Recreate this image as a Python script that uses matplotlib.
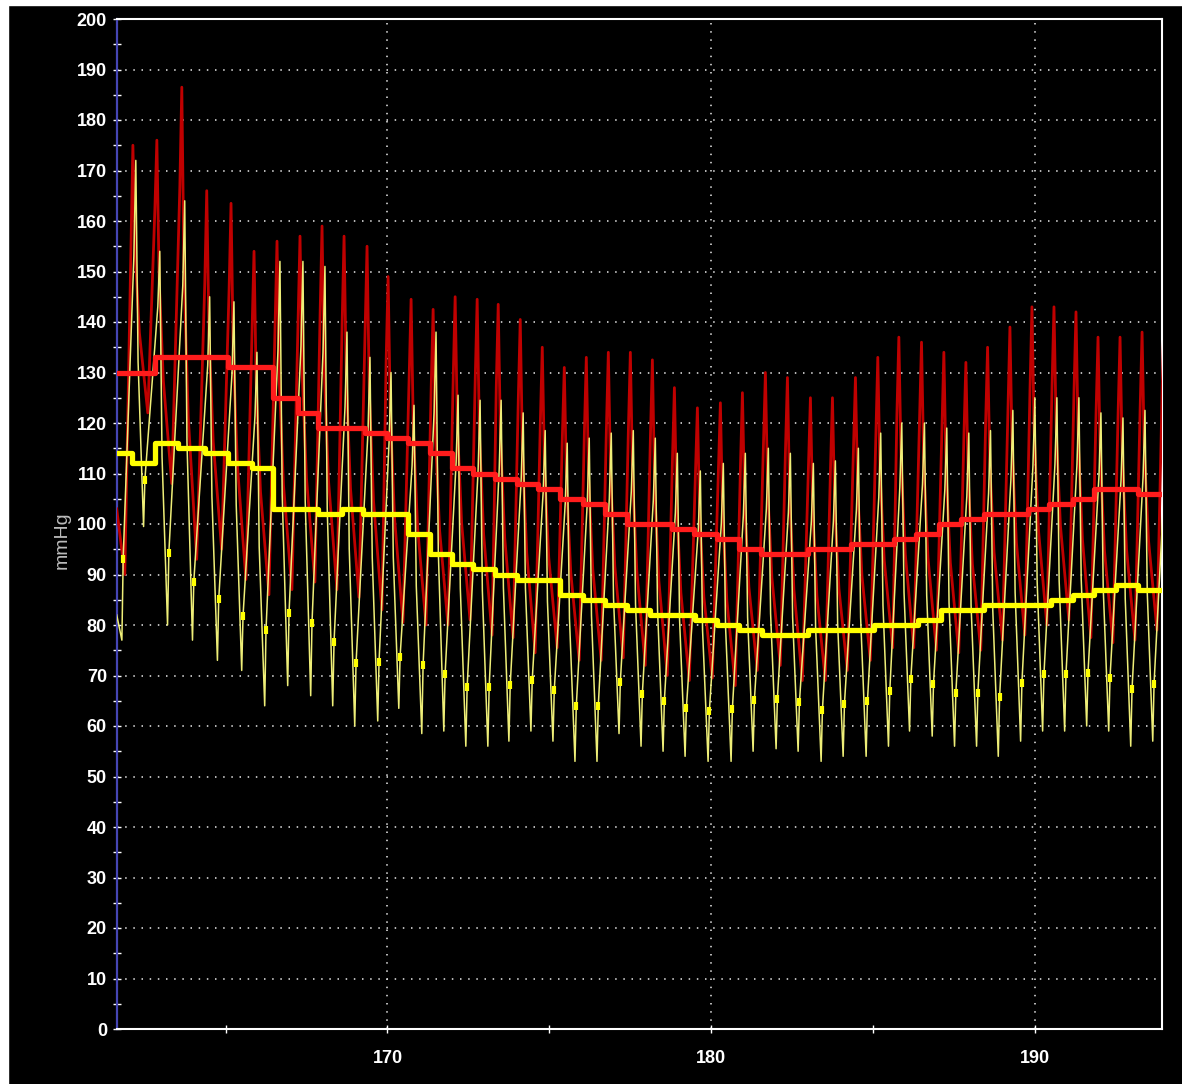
import matplotlib
matplotlib.use("Agg")
import matplotlib.pyplot as plt
from matplotlib.patches import Rectangle
from matplotlib.ticker import MultipleLocator

# beat times (s) at the arterial systolic peak
beat_t = [162.14, 162.88, 163.65, 164.42, 165.17, 165.88, 166.59, 167.30, 167.98, 168.66,
          169.37, 170.02, 170.73, 171.41, 172.09, 172.77, 173.42, 174.10, 174.78, 175.46,
          176.14, 176.82, 177.50, 178.18, 178.86, 179.57, 180.28, 180.96, 181.67, 182.35,
          183.06, 183.74, 184.45, 185.14, 185.79, 186.49, 187.18, 187.86, 188.53, 189.22,
          189.90, 190.58, 191.26, 191.94, 192.62, 193.30, 193.98]

# red trace: systolic peak and following diastolic trough per beat (mmHg)
red_sys = [175, 176, 186.5, 166, 163.5, 154, 156, 157, 159, 157,
           155, 149, 144.5, 142.5, 145, 144.5, 143.5, 140.5, 135, 131,
           133, 134, 134, 132.5, 127, 123, 124, 126, 130, 129,
           125, 125, 129, 133, 137, 136, 134, 132, 135, 139,
           143, 143, 142, 137, 137, 138, 142]
red_dia = [122, 108, 93, 95, 89, 86, 87, 88.5, 87, 85.5,
           83, 80.5, 80, 80, 81, 78, 77.5, 74.5, 75.5, 73,
           73, 73.5, 72, 70, 69, 69.5, 68, 71, 72, 69,
           69, 71, 73, 75.5, 75.5, 75, 74.5, 75, 77, 78,
           80, 81, 77.5, 76.5, 77, 79, 80]
red_first = [103, 90]

# yellow trace: systolic peak and following trough per beat (mmHg)
yel_sys = [172, 154, 164, 145, 144, 134, 152, 152, 151, 138,
           133, 130, 123.5, 138, 125.5, 124.5, 124.5, 122, 118.5, 116,
           117, 118, 118.5, 117, 114, 110.5, 112, 114, 115, 114,
           112, 112.5, 115, 118, 120, 120, 119, 118, 118.5, 122.5,
           125, 125, 125, 122, 121, 122.5, 124]
yel_dia = [99.5, 80, 77, 73, 71, 64, 68, 66, 64, 60,
           61, 63.5, 58.5, 59, 56, 56, 57, 59, 57, 53,
           53, 58.5, 56, 55, 54, 53, 53, 55, 55.5, 55,
           53, 54, 54, 56, 59, 58, 56, 56, 54, 57,
           59, 59, 60, 59, 56, 57, 60]
yel_first = [82, 77]

# beat-averaged mean pressures (stepped)
red_mean_t = [161.64, 162.82, 165.08, 166.47, 167.24, 167.86, 169.31, 169.99, 170.64, 171.32,
              172.00, 172.65, 173.33, 174.01, 174.66, 175.34, 176.05, 176.73, 177.41, 178.80,
              179.45, 180.19, 180.84, 181.52, 182.97, 184.30, 185.63, 186.31, 187.02, 187.70,
              188.41, 189.77, 190.42, 191.17, 191.82, 193.18]
red_mean = [130, 133, 131, 125, 122, 119, 118, 117, 116, 114,
            111, 110, 109, 108, 107, 105, 104, 102, 100, 99,
            98, 97, 95, 94, 95, 96, 97, 98, 100, 101,
            102, 103, 104, 105, 107, 106]
yel_mean_t = [161.64, 162.11, 162.82, 163.53, 164.36, 165.08, 165.82, 166.47, 167.86, 168.60,
              169.25, 170.64, 171.32, 172.00, 172.65, 173.33, 174.01, 175.34, 176.05, 176.73,
              177.41, 178.12, 179.51, 180.19, 180.84, 181.58, 182.97, 185.01, 186.37, 187.08,
              188.41, 190.48, 191.17, 191.82, 192.49, 193.18]
yel_mean = [114, 112, 116, 115, 114, 112, 111, 103, 102, 103,
            102, 98, 94, 92, 91, 90, 89, 86, 85, 84,
            83, 82, 81, 80, 79, 78, 79, 80, 81, 83,
            84, 85, 86, 87, 88, 87]

t_min, t_max = 161.64, 193.90
y_min, y_max = 0, 200

W, H = 1182, 1084
fig = plt.figure(figsize=(W / 100, H / 100), dpi=100, facecolor="black")
# white strips along the top and left edges of the window capture
fig.patches.append(Rectangle((0, 1 - 5 / H), 1, 5 / H, transform=fig.transFigure,
                             color="white", zorder=0))
fig.patches.append(Rectangle((0, 0), 8 / W, 1, transform=fig.transFigure,
                             color="white", zorder=0))

ax = fig.add_axes([116.7 / W, 55 / H, (1161.5 - 116.7) / W, (1029 - 19) / H])
ax.set_facecolor("black")


def red_trace():
    xs = [t_min, beat_t[0] - 0.25]
    ys = [red_first[0], red_first[1]]
    prev = red_first[1]
    for tp, s, d in zip(beat_t, red_sys, red_dia):
        xs += [tp - 0.06, tp, tp + 0.07, tp + 0.2, tp + 0.46]
        ys += [prev + 0.75 * (s - prev), s, d + 0.6 * (s - d), d + 0.3 * (s - d), d]
        prev = d
    return xs, ys


def yellow_trace():
    xs = [t_min, beat_t[0] - 0.34]
    ys = [yel_first[0], yel_first[1]]
    feet_x, feet_y = [], []
    prev_t, prev = beat_t[0] - 0.34, yel_first[1]
    for tp, s, d in zip(beat_t, yel_sys, yel_dia):
        foot = prev + 0.17 * (s - prev)
        feet_x.append(prev_t + 0.04)
        feet_y.append(foot)
        xs += [prev_t + 0.04, tp + 0.03, tp + 0.09, tp + 0.16, tp + 0.33]
        ys += [foot, prev + 0.8 * (s - prev), s, d + 0.45 * (s - d), d]
        prev_t, prev = tp + 0.33, d
    return xs, ys, feet_x, feet_y


rx, ry = red_trace()
yx, yy, fx, fy = yellow_trace()

ax.plot(rx, ry, color="#c00000", lw=2.0, zorder=3)
ax.plot(yx, yy, color="#eeee78", lw=1.1, zorder=4)
ax.plot(fx, fy, ls="none", marker="|", ms=6, mew=3, color="#ffff00", zorder=4)

ax.step(red_mean_t + [t_max], red_mean + [red_mean[-1]], where="post",
        color="#ff1c1c", lw=3.8, zorder=5)
ax.step(yel_mean_t + [t_max], yel_mean + [yel_mean[-1]], where="post",
        color="#ffff00", lw=3.8, zorder=6)

ax.set_xlim(t_min, t_max)
ax.set_ylim(y_min, y_max)

ax.xaxis.set_major_locator(MultipleLocator(10))
ax.xaxis.set_minor_locator(MultipleLocator(5))
ax.yaxis.set_major_locator(MultipleLocator(10))
ax.yaxis.set_minor_locator(MultipleLocator(5))

ax.grid(True, which="major", color="#d8d8d8", lw=1.2, ls=(0, (0.9, 4.0)))
ax.set_axisbelow(True)

for side in ["top", "right", "bottom"]:
    ax.spines[side].set_color("white")
    ax.spines[side].set_linewidth(1.5)
ax.spines["left"].set_color("#4646b4")
ax.spines["left"].set_linewidth(1.6)

tick_family = ["Liberation Sans Narrow", "Liberation Sans", "DejaVu Sans"]
ax.tick_params(axis="both", which="both", direction="inout", color="white",
               width=1.0, length=6, labelcolor="white")
ax.tick_params(axis="x", which="major", pad=12)
ax.tick_params(axis="y", which="major", pad=4)
for lab in ax.get_xticklabels() + ax.get_yticklabels():
    lab.set_fontfamily(tick_family)
    lab.set_fontweight("bold")
    lab.set_fontsize(13)

fig.text(62 / W, 1 - 540 / H, "mmHg", rotation=90, color="#bcbcbc", fontsize=14,
         family=["Liberation Sans", "DejaVu Sans"], ha="center", va="center")

fig.savefig("out.png", dpi=100, facecolor=fig.get_facecolor())
